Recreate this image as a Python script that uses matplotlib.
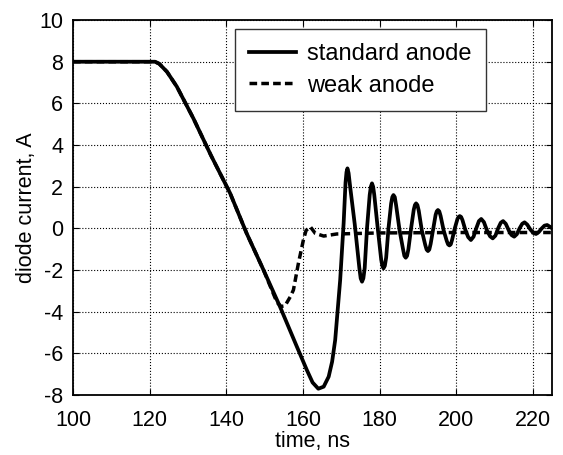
import numpy as np
import matplotlib
matplotlib.use("Agg")
import matplotlib.pyplot as plt

plt.rcParams['font.family'] = ['Liberation Sans', 'DejaVu Sans']
plt.rcParams['axes.unicode_minus'] = False

# standard anode, values (time in ns, current in A)
t_std = [100, 121.4, 122.5, 124.5, 127.1, 131.4, 136, 141, 145.3, 149.7, 154,
         158.4, 161, 162.5, 164, 165.4, 166.7, 167.6, 168.4, 169.7, 170.6,
         171.1, 171.35, 171.6, 171.9, 172.3, 173.5, 174.7, 175.05, 175.4, 175.75,
         176.1, 176.7, 177.4, 177.7, 178.0, 178.3, 178.6, 179.5, 180.4, 180.7,
         181.0, 181.35, 181.7, 182.3, 183.0, 183.3, 183.6, 183.95, 184.3, 185.2,
         186.1, 186.45, 186.8, 187.15, 187.5, 188.2, 188.9, 189.2, 189.5, 189.85,
         190.2, 191.0, 191.9, 192.25, 192.6, 192.95, 193.3, 194.0, 194.6, 194.9,
         195.2, 195.55, 195.9, 196.7, 197.5, 197.85, 198.2, 198.55, 198.9, 199.6,
         200.3, 200.6, 200.9, 201.25, 201.6, 202.4, 203.1, 203.8, 204.5, 205.2,
         205.9, 206.5, 207.2, 208.0, 208.8, 209.5, 210.2, 210.9, 211.6, 212.2,
         212.9, 213.7, 214.4, 215.1, 215.8, 216.5, 217.2, 217.8, 218.5, 219.3,
         220.1, 220.8, 221.5, 222.3, 223.0, 223.7, 224.4, 225.0]
i_std = [8, 8, 7.9, 7.52, 6.8, 5.28, 3.5, 1.68, -0.24, -2.0, -3.76,
         -5.68, -6.8, -7.4, -7.7, -7.6, -7.12, -6.4, -5.36, -2.48, 0.24,
         2.2, 2.7, 2.88, 2.65, 2.0, 0.2, -1.9, -2.4, -2.56, -2.4,
         -1.9, 0.0, 1.6, 2.0, 2.16, 2.0, 1.6, 0.0, -1.5, -1.8,
         -1.92, -1.8, -1.4, 0.0, 1.2, 1.5, 1.6, 1.5, 1.1, -0.1,
         -1.0, -1.32, -1.41, -1.32, -1.0, 0.0, 0.9, 1.12, 1.2, 1.12,
         0.85, -0.1, -0.8, -1.02, -1.09, -1.02, -0.75, 0.0, 0.65, 0.82,
         0.88, 0.82, 0.6, -0.1, -0.6, -0.77, -0.82, -0.77, -0.55, 0.0,
         0.45, 0.55, 0.59, 0.55, 0.4, -0.1, -0.42, -0.56, -0.4, 0.0,
         0.35, 0.45, 0.3, -0.1, -0.38, -0.48, -0.35, 0.0, 0.27, 0.35,
         0.22, -0.1, -0.32, -0.4, -0.28, 0.0, 0.22, 0.29, 0.18, -0.05,
         -0.22, -0.27, -0.18, 0.0, 0.13, 0.16, 0.08, 0.0]

# weak anode
t_weak = [100, 121.4, 122.5, 124.5, 127.1, 131.4, 136, 141, 145.3, 149.7,
          153.2, 154.3, 155.3, 156.7, 157.5, 158.8, 160.1, 160.8, 161.9,
          163.2, 165.4, 168.8, 180, 200, 225]
i_weak = [8, 8, 7.9, 7.52, 6.8, 5.28, 3.5, 1.68, -0.24, -2.0,
          -3.55, -3.75, -3.72, -3.28, -2.96, -1.68, -0.56, -0.1, 0.08,
          -0.24, -0.37, -0.27, -0.22, -0.2, -0.2]

x_ticks = [100, 120, 140, 160, 180, 200, 220]
y_ticks = [-8, -6, -4, -2, 0, 2, 4, 6, 8, 10]

fig = plt.figure(figsize=(5.63, 4.55), dpi=100)
ax = fig.add_axes([0.1297, 0.1319, 0.851, 0.824])

ax.plot(t_std, i_std, color='black', lw=2.7, label='standard anode')
ax.plot(t_weak, i_weak, color='black', lw=2.5, dashes=(2.2, 1.2), label='weak anode')

ax.set_xlim(100, 225)
ax.set_ylim(-8, 10)
ax.set_xticks(x_ticks)
ax.set_yticks(y_ticks)
ax.grid(True, color='black', linestyle=':', linewidth=0.8)
ax.tick_params(direction='in', top=True, right=True, labelsize=15.5, length=4)
ax.tick_params(axis='x', pad=11)
ax.tick_params(axis='y', pad=7)
for s in ax.spines.values():
    s.set_linewidth(1.3)

ax.set_xlabel('time, ns', fontsize=15.5, labelpad=0)
ax.set_ylabel('diode current, A', fontsize=15.5, labelpad=2)

leg = ax.legend(loc='upper left', bbox_to_anchor=(0.338, 0.976), fontsize=17,
                fancybox=False, framealpha=1, edgecolor='#333333',
                handlelength=2.0, handletextpad=0.45, borderpad=0.6,
                labelspacing=0.4, borderaxespad=0)
leg.get_frame().set_linewidth(1.0)

fig.savefig('out.png', dpi=100)
